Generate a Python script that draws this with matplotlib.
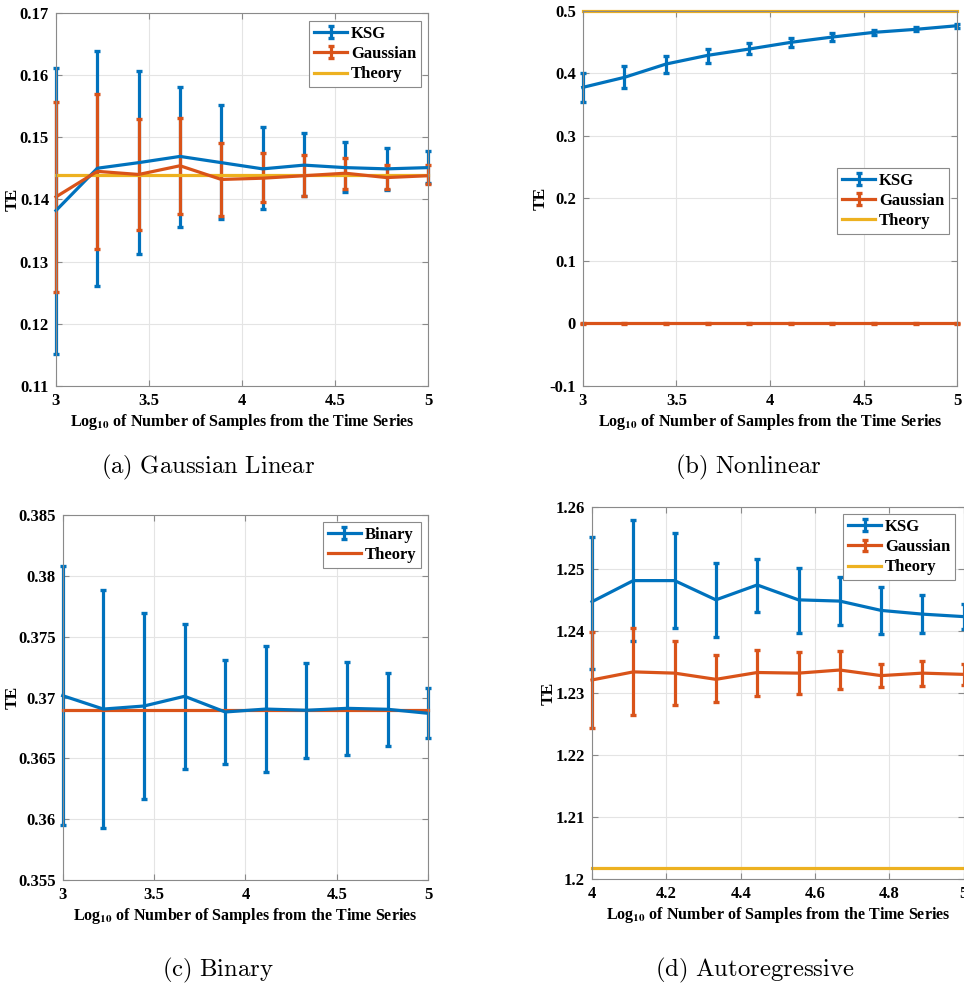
import numpy as np
import matplotlib
matplotlib.use("Agg")
import matplotlib.pyplot as plt
from matplotlib.ticker import FuncFormatter
from matplotlib.legend_handler import HandlerErrorbar
from matplotlib.container import ErrorbarContainer

# ---------------- data ----------------
x_a = np.linspace(3, 5, 10)
ksg_a = [0.1382, 0.1450, 0.1459, 0.1469, 0.1459, 0.1449, 0.1455, 0.1451, 0.1449, 0.1451]
ksg_a_hi = [0.1611, 0.1638, 0.1607, 0.1581, 0.1552, 0.1516, 0.1506, 0.1492, 0.1483, 0.1477]
ksg_a_lo = [0.1151, 0.1261, 0.1312, 0.1356, 0.1368, 0.1384, 0.1405, 0.1412, 0.1415, 0.1427]
gau_a = [0.1404, 0.1445, 0.1440, 0.1454, 0.1432, 0.1434, 0.1438, 0.1442, 0.1435, 0.1438]
gau_a_hi = [0.1556, 0.1569, 0.1529, 0.1530, 0.1490, 0.1474, 0.1471, 0.1466, 0.1455, 0.1456]
gau_a_lo = [0.1251, 0.1321, 0.1350, 0.1377, 0.1374, 0.1395, 0.1405, 0.1417, 0.1416, 0.1424]
theory_a = 0.1439

x_b = np.linspace(3, 5, 10)
ksg_b = [0.3774, 0.3934, 0.4147, 0.4286, 0.4387, 0.4494, 0.4579, 0.4654, 0.4702, 0.4760]
ksg_b_hi = [0.3998, 0.4121, 0.4281, 0.4387, 0.4478, 0.4558, 0.4638, 0.4696, 0.4739, 0.4787]
ksg_b_lo = [0.3540, 0.3758, 0.4004, 0.4169, 0.4302, 0.4425, 0.4520, 0.4606, 0.4670, 0.4728]
gau_b = [0.0, 0.0, 0.0, 0.0, 0.0, 0.0, 0.0, 0.0, 0.0, 0.0]
gau_b_err = [0.001, 0.001, 0.001, 0.001, 0.001, 0.001, 0.001, 0.001, 0.001, 0.001]
theory_b = 0.5

x_c = np.linspace(3, 5, 10)
bin_c = [0.37015, 0.36905, 0.3693, 0.3701, 0.36881, 0.36905, 0.36895, 0.36911, 0.36903, 0.3687]
bin_c_hi = [0.38078, 0.37884, 0.37692, 0.37601, 0.37305, 0.37426, 0.37281, 0.37289, 0.37201, 0.37078]
bin_c_lo = [0.35949, 0.35925, 0.36166, 0.36415, 0.36456, 0.36385, 0.36500, 0.36527, 0.36599, 0.36670]
theory_c = 0.36895

x_d = np.linspace(4, 5, 10)
ksg_d = [1.2447, 1.2481, 1.2481, 1.2450, 1.2474, 1.2450, 1.2448, 1.2433, 1.2427, 1.2423]
ksg_d_hi = [1.2552, 1.2579, 1.2557, 1.2510, 1.2516, 1.2501, 1.2487, 1.2471, 1.2458, 1.2444]
ksg_d_lo = [1.2339, 1.2383, 1.2405, 1.2390, 1.2431, 1.2397, 1.2409, 1.2395, 1.2397, 1.2403]
gau_d = [1.2321, 1.2334, 1.2332, 1.2322, 1.2333, 1.2332, 1.2337, 1.2328, 1.2332, 1.2330]
gau_d_hi = [1.2398, 1.2405, 1.2384, 1.2361, 1.2370, 1.2366, 1.2367, 1.2347, 1.2352, 1.2346]
gau_d_lo = [1.2243, 1.2265, 1.2280, 1.2285, 1.2295, 1.2298, 1.2306, 1.2309, 1.2311, 1.2313]
theory_d = 1.2018

xticks_abc = [3, 3.5, 4, 4.5, 5]
xticks_d = [4, 4.2, 4.4, 4.6, 4.8, 5]
yticks_a = [0.11, 0.12, 0.13, 0.14, 0.15, 0.16, 0.17]
yticks_b = [-0.1, 0, 0.1, 0.2, 0.3, 0.4, 0.5]
yticks_c = [0.355, 0.36, 0.365, 0.37, 0.375, 0.38, 0.385]
yticks_d = [1.2, 1.21, 1.22, 1.23, 1.24, 1.25, 1.26]

captions = ["(a) Gaussian Linear", "(b) Nonlinear", "(c) Binary", "(d) Autoregressive"]
xlabel = r"Log$_{\mathbf{10}}$ of Number of Samples from the Time Series"
ylabel = "TE"

# ---------------- style ----------------
BLUE = "#0072BD"
ORANGE = "#D95319"
YELLOW = "#EDB120"
W, H = 964, 985
SERIF = ["Liberation Serif", "DejaVu Serif"]

plt.rcParams["font.family"] = SERIF
plt.rcParams["font.weight"] = "bold"

fig = plt.figure(figsize=(W / 100, H / 100), dpi=100)


def add_ax(left, top, right, bottom):
    return fig.add_axes([left / W, 1 - bottom / H, (right - left) / W, (bottom - top) / H])


fmt = FuncFormatter(lambda v, p: ("%g" % round(v, 6)))

LW = 2.3
EB = dict(capsize=2.2, elinewidth=LW, capthick=2.4, lw=LW)


def ebar(ax, x, y, yerr, color, label):
    c = ax.errorbar(x, y, yerr=yerr, color=color, label=label, **EB)
    for art in c.get_children():
        art.set_clip_on(False)
    return c


def theory(ax, x, v, color):
    (ln,) = ax.plot(x, np.full_like(x, v), color=color, lw=LW, label="Theory", clip_on=False)
    return ln


def style(ax, xlim, ylim, xt, yt, ylab_x):
    ax.set_xlim(*xlim)
    ax.set_ylim(*ylim)
    ax.set_xticks(xt)
    ax.set_yticks(yt)
    ax.xaxis.set_major_formatter(fmt)
    ax.yaxis.set_major_formatter(fmt)
    ax.grid(True, color="#e4e4e4", lw=0.8)
    ax.set_axisbelow(True)
    for s in ax.spines.values():
        s.set_color("#8a8a8a")
        s.set_linewidth(0.8)
    ax.tick_params(direction="in", length=4, width=0.8, color="#8a8a8a",
                   top=True, right=True, labelsize=12, pad=5)
    for lab in ax.get_xticklabels() + ax.get_yticklabels():
        lab.set_fontweight("bold")
    ax.set_xlabel(xlabel, fontsize=11.5, fontweight="bold", math_fontfamily="stix", labelpad=2)
    ax.set_ylabel(ylabel, fontsize=12.5, fontweight="bold")
    ax.yaxis.set_label_coords(ylab_x, 0.5)


def legend(ax, handles, rx, ty):
    leg = ax.legend(handles=handles, loc="upper right", bbox_to_anchor=(rx / W, 1 - ty / H),
                    bbox_transform=fig.transFigure, fancybox=False, framealpha=1,
                    edgecolor="#8a8a8a", prop=dict(family=SERIF, weight="bold", size=12),
                    handlelength=2.0, handletextpad=0.2, labelspacing=0.25,
                    borderpad=0.3, borderaxespad=0,
                    handler_map={ErrorbarContainer: HandlerErrorbar(xerr_size=0.35, yerr_size=0.35)})
    leg.get_frame().set_linewidth(0.8)


def err(mean, hi, lo):
    m = np.asarray(mean)
    return [m - np.asarray(lo), np.asarray(hi) - m]


# (a)
ax = add_ax(56, 12.7, 428, 386)
h1 = ebar(ax, x_a, ksg_a, err(ksg_a, ksg_a_hi, ksg_a_lo), BLUE, "KSG")
h2 = ebar(ax, x_a, gau_a, err(gau_a, gau_a_hi, gau_a_lo), ORANGE, "Gaussian")
h3 = theory(ax, x_a, theory_a, YELLOW)
style(ax, (3, 5), (0.11, 0.17), xticks_abc, yticks_a, -0.094)
legend(ax, [h1, h2, h3], 421, 21)

# (b)
ax = add_ax(582.7, 10.7, 957.3, 386)
h1 = ebar(ax, x_b, ksg_b, err(ksg_b, ksg_b_hi, ksg_b_lo), BLUE, "KSG")
h2 = ebar(ax, x_b, gau_b, gau_b_err, ORANGE, "Gaussian")
h3 = theory(ax, x_b, theory_b, YELLOW)
style(ax, (3, 5), (-0.1, 0.5), xticks_abc, yticks_b, -0.09)
legend(ax, [h1, h2, h3], 949, 168)

# (c)
ax = add_ax(62.7, 515, 428.3, 880)
h1 = ebar(ax, x_c, bin_c, err(bin_c, bin_c_hi, bin_c_lo), BLUE, "Binary")
h2 = theory(ax, x_c, theory_c, ORANGE)
style(ax, (3, 5), (0.355, 0.385), xticks_abc, yticks_c, -0.114)
legend(ax, [h1, h2], 421, 522)

# (d)
ax = add_ax(592, 506.7, 963.7, 879.3)
h1 = ebar(ax, x_d, ksg_d, err(ksg_d, ksg_d_hi, ksg_d_lo), BLUE, "KSG")
h2 = ebar(ax, x_d, gau_d, err(gau_d, gau_d_hi, gau_d_lo), ORANGE, "Gaussian")
h3 = theory(ax, x_d, theory_d, YELLOW)
style(ax, (4, 5), (1.2, 1.26), xticks_d, yticks_d, -0.094)
legend(ax, [h1, h2, h3], 955, 514)

# captions
cap_pos = [(208, 467), (748, 467), (218, 970), (755, 970)]
for txt, (cx, cy) in zip(captions, cap_pos):
    fig.text(cx / W, 1 - cy / H, r"$\mathrm{" + txt.replace(" ", r"\ ") + "}$",
             ha="center", va="center", fontsize=17.8, math_fontfamily="cm")

fig.savefig("out.png", dpi=100)
